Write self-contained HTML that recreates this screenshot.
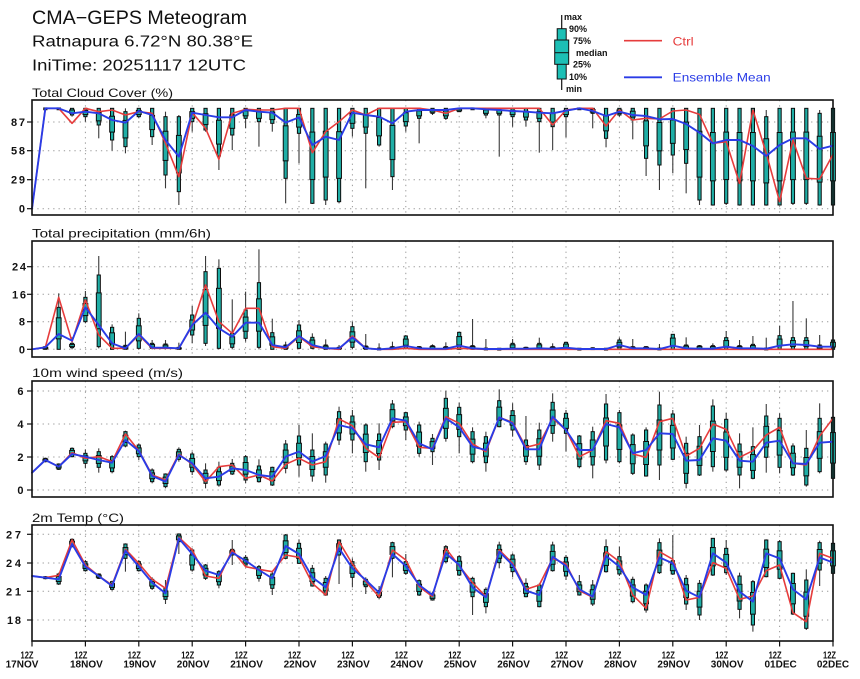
<!DOCTYPE html>
<html><head><meta charset="utf-8"><style>
html,body{margin:0;padding:0;background:#fff;}
svg{display:block;}
text{font-family:"Liberation Sans",Arial,sans-serif;}
.tl{font-size:11px;font-weight:bold;fill:#111;}
.xl{font-size:10px;font-weight:bold;fill:#111;}
.lg{font-size:9px;font-weight:bold;fill:#111;}
.pt{font-size:12px;fill:#111;}
</style></head><body>
<svg id="s" width="860" height="679" viewBox="0 0 860 679" xmlns="http://www.w3.org/2000/svg">
<rect width="860" height="679" fill="#fff"/>
<g id="grid"></g>
<g id="data"></g>
<g fill="none" stroke="#111" stroke-width="1.6">
<rect x="32" y="100" width="801" height="115"/>
<rect x="32" y="241" width="801" height="116"/>
<rect x="32" y="381" width="801" height="116"/>
<rect x="32" y="525" width="801" height="116"/>
</g>
<g id="xt" stroke="#111" stroke-width="1.2"></g>

<text x="32" y="24" font-size="19" fill="#111" textLength="215" lengthAdjust="spacingAndGlyphs">CMA−GEPS Meteogram</text>
<text x="32" y="46.5" font-size="16" fill="#111" textLength="221" lengthAdjust="spacingAndGlyphs">Ratnapura 6.72°N 80.38°E</text>
<text x="32" y="70.5" font-size="16" fill="#111" textLength="214" lengthAdjust="spacingAndGlyphs">IniTime: 20251117 12UTC</text>

<text class="pt" x="32" y="97" textLength="141" lengthAdjust="spacingAndGlyphs">Total Cloud Cover (%)</text>
<text class="pt" x="32" y="237.5" textLength="179" lengthAdjust="spacingAndGlyphs">Total precipitation (mm/6h)</text>
<text class="pt" x="32" y="377" textLength="151" lengthAdjust="spacingAndGlyphs">10m wind speed (m/s)</text>
<text class="pt" x="32" y="522" textLength="92" lengthAdjust="spacingAndGlyphs">2m Temp (°C)</text>

<g class="tl" text-anchor="end">
<text x="25" y="126" textLength="14">87</text>
<text x="25" y="154.7" textLength="14">58</text>
<text x="25" y="183.7" textLength="14">29</text>
<text x="25" y="212.7">0</text>
<text x="26" y="270.7" textLength="14">24</text>
<text x="26" y="298.3" textLength="14">16</text>
<text x="25" y="325.7">8</text>
<text x="25" y="353.3">0</text>
<text x="23.5" y="395">6</text>
<text x="23.5" y="428">4</text>
<text x="23.5" y="461">2</text>
<text x="23.5" y="494">0</text>
<text x="21" y="538.3" textLength="15">27</text>
<text x="21" y="567" textLength="15">24</text>
<text x="21" y="595.3" textLength="15">21</text>
<text x="21" y="624" textLength="14">18</text>
</g>

<g class="xl" text-anchor="middle">
<text x="27" y="658.5" textLength="13" lengthAdjust="spacingAndGlyphs">12Z</text><text x="22" y="667.5">17NOV</text>
<text x="80.9" y="658.5" textLength="13" lengthAdjust="spacingAndGlyphs">12Z</text><text x="86.4" y="667.5">18NOV</text>
<text x="134.3" y="658.5" textLength="13" lengthAdjust="spacingAndGlyphs">12Z</text><text x="139.8" y="667.5">19NOV</text>
<text x="187.7" y="658.5" textLength="13" lengthAdjust="spacingAndGlyphs">12Z</text><text x="193.2" y="667.5">20NOV</text>
<text x="241.1" y="658.5" textLength="13" lengthAdjust="spacingAndGlyphs">12Z</text><text x="246.6" y="667.5">21NOV</text>
<text x="294.5" y="658.5" textLength="13" lengthAdjust="spacingAndGlyphs">12Z</text><text x="300" y="667.5">22NOV</text>
<text x="347.9" y="658.5" textLength="13" lengthAdjust="spacingAndGlyphs">12Z</text><text x="353.4" y="667.5">23NOV</text>
<text x="401.3" y="658.5" textLength="13" lengthAdjust="spacingAndGlyphs">12Z</text><text x="406.8" y="667.5">24NOV</text>
<text x="454.7" y="658.5" textLength="13" lengthAdjust="spacingAndGlyphs">12Z</text><text x="460.2" y="667.5">25NOV</text>
<text x="508.1" y="658.5" textLength="13" lengthAdjust="spacingAndGlyphs">12Z</text><text x="513.6" y="667.5">26NOV</text>
<text x="561.5" y="658.5" textLength="13" lengthAdjust="spacingAndGlyphs">12Z</text><text x="567" y="667.5">27NOV</text>
<text x="614.9" y="658.5" textLength="13" lengthAdjust="spacingAndGlyphs">12Z</text><text x="620.4" y="667.5">28NOV</text>
<text x="668.3" y="658.5" textLength="13" lengthAdjust="spacingAndGlyphs">12Z</text><text x="673.8" y="667.5">29NOV</text>
<text x="721.7" y="658.5" textLength="13" lengthAdjust="spacingAndGlyphs">12Z</text><text x="727.2" y="667.5">30NOV</text>
<text x="775.1" y="658.5" textLength="13" lengthAdjust="spacingAndGlyphs">12Z</text><text x="780.6" y="667.5">01DEC</text>
<text x="829.5" y="658.5" textLength="13" lengthAdjust="spacingAndGlyphs">12Z</text><text x="833" y="667.5">02DEC</text>
</g>

<!-- legend -->
<line x1="561.7" y1="15" x2="561.7" y2="90" stroke="#111" stroke-width="1.2"/>
<rect x="557.2" y="28.7" width="9" height="50.3" fill="#1dbfb5" stroke="#111" stroke-width="1"/>
<rect x="554.7" y="40" width="14" height="24.3" fill="#1dbfb5" stroke="#111" stroke-width="1"/>
<line x1="554.7" y1="52.7" x2="568.7" y2="52.7" stroke="#111" stroke-width="1"/>
<text class="lg" x="564" y="20.2">max</text>
<text class="lg" x="569" y="32.2">90%</text>
<text class="lg" x="573" y="44.2">75%</text>
<text class="lg" x="576" y="56.2">median</text>
<text class="lg" x="573" y="67.7">25%</text>
<text class="lg" x="569" y="80.2">10%</text>
<text class="lg" x="566" y="92.2">min</text>
<line x1="624" y1="40.7" x2="662" y2="40.7" stroke="#e63c3c" stroke-width="1.6"/>
<text x="672.7" y="45.7" font-size="12" fill="#e63c3c" textLength="21" lengthAdjust="spacingAndGlyphs">Ctrl</text>
<line x1="624" y1="77.3" x2="662" y2="77.3" stroke="#2a3ce6" stroke-width="1.8"/>
<text x="672.7" y="81.7" font-size="12" fill="#2a3ce6" textLength="98" lengthAdjust="spacingAndGlyphs">Ensemble Mean</text>
</svg>
<script>
(function(){
const NS="http://www.w3.org/2000/svg";
function el(p,t,a){const e=document.createElementNS(NS,t);for(const k in a)e.setAttribute(k,a[k]);p.appendChild(e);return e;}
const X=i=>32+13.35*i;
const gG=document.getElementById('grid'),gD=document.getElementById('data'),gX=document.getElementById('xt');
const panels=[
 {top:100,bot:215,ticks:[122,150.7,179.7,208.7]},
 {top:241,bot:357,ticks:[266.7,294.3,321.7,349.3]},
 {top:381,bot:497,ticks:[391,424,457,490]},
 {top:525,bot:641,ticks:[534.3,563,591.3,620]}];
panels.forEach(p=>{
 p.ticks.forEach(y=>{
  el(gG,'line',{x1:32,x2:833,y1:y,y2:y,stroke:'#9a9a9a','stroke-width':1,'stroke-dasharray':'1.3,4'});
  el(gX,'line',{x1:27,x2:32,y1:y,y2:y});
 });
 for(let k=1;k<15;k++){const x=32+53.4*k;
  el(gG,'line',{x1:x,x2:x,y1:p.top,y2:p.bot,stroke:'#9a9a9a','stroke-width':1,'stroke-dasharray':'1.3,4'});}
});
for(let k=0;k<=15;k++){const x=32+53.4*k;el(gX,'line',{x1:x,x2:x,y1:641,y2:646.5});}

function drawBoxes(oy,boxes){
 boxes.forEach((bx,j)=>{
  const i=j+1,x=X(i);
  let t=oy+bx[0]/3,b=oy+bx[1]/3,mx=oy+bx[2]/3,mn=oy+bx[3]/3;
  el(gD,'line',{x1:x,x2:x,y1:mx,y2:mn,stroke:'#3a3a3a','stroke-width':1.1});
  if(b-t<1.8){const c=(t+b)/2;t=c-0.9;b=c+0.9;}
  el(gD,'rect',{x:x-1.6,y:t,width:3.2,height:b-t,fill:'#1fae a6'.replace(' ',''),stroke:'#0d0d0d','stroke-width':1});
  const q3=t+0.25*(b-t),q1=t+0.75*(b-t);
  if(q1-q3>1){
   el(gD,'rect',{x:x-2.4,y:q3,width:4.8,height:q1-q3,fill:'#1faea6',stroke:'#0d0d0d','stroke-width':1});
  }
 });
}
function drawLine(oy,arr,col,w){
 const pts=arr.map((v,i)=>X(i).toFixed(2)+','+(oy+v/3).toFixed(2)).join(' ');
 el(gD,'polyline',{points:pts,fill:'none',stroke:col,'stroke-width':w,'stroke-linejoin':'round','stroke-linecap':'round'});
}
const RED='#e63c3c',BLUE='#2a3ce6';

/* Cloud */
const cB=[[325,328,325,328],[325,328,325,328],[325,345,325,350],[325,350,325,365],[325,375,325,415],[325,420,325,452],[335,440,325,460],[325,350,325,355],[325,410,325,435],[350,525,335,565],[350,575,345,615],[325,365,325,395],[325,390,325,395],[325,468,325,510],[325,405,325,450],[325,355,325,385],[325,365,325,440],[325,370,325,395],[325,535,325,610],[325,400,325,490],[325,610,325,612],[325,600,325,615],[325,605,325,610],[325,385,325,410],[325,400,325,565],[325,435,325,440],[325,530,325,570],[325,378,325,395],[325,355,325,430],[325,340,325,345],[325,355,325,360],[325,335,325,335],[325,328,325,330],[325,345,325,355],[325,345,325,470],[325,350,325,380],[325,360,325,380],[325,365,325,458],[325,380,325,450],[325,350,325,412],[325,328,325,330],[325,340,325,385],[325,415,325,442],[325,345,325,350],[325,360,325,418],[325,475,325,528],[325,495,325,570],[325,465,325,520],[325,490,325,580],[325,600,325,615],[325,615,325,617],[325,610,325,615],[325,615,325,617],[325,615,325,617],[350,615,330,617],[325,615,325,617],[325,610,325,615],[325,610,325,615],[340,615,330,617],[325,615,325,617]];
const cR=[626,325,325,370,325,335,330,345,335,340,430,530,338,385,478,340,328,330,330,325,325,458,395,365,330,345,325,325,325,325,330,340,325,325,325,325,325,325,325,375,330,325,325,378,330,360,355,357,333,330,343,430,425,550,330,460,605,420,535,537,463];
const cL=[626,325,325,340,335,340,360,368,333,345,420,470,338,345,352,352,330,335,338,368,352,435,410,420,338,345,350,370,335,330,330,330,325,325,328,330,333,335,338,340,332,325,333,348,335,345,348,358,357,372,398,430,420,420,438,468,435,415,415,447,437];
drawBoxes(0,cB);drawLine(0,cR,RED,1.6);drawLine(0,cL,BLUE,1.9);

/* Precip */
const pB=[[380,388,378,388],[262,388,220,388],[370,383,352,388],[232,305,213,310],[165,380,108,385],[322,388,313,388],[376,388,335,388],[295,385,280,388],[370,385,360,388],[372,385,360,388],[382,388,368,388],[285,345,258,370],[155,370,108,378],[145,385,118,388],[340,382,238,388],[270,355,215,365],[188,382,88,388],[338,388,296,388],[375,388,365,388],[315,385,300,388],[352,385,340,388],[375,388,358,388],[382,388,375,388],[320,382,305,388],[378,388,342,388],[386,388,370,388],[380,388,365,388],[348,385,345,388],[380,388,378,388],[377,388,373,388],[380,388,367,388],[337,388,337,388],[377,388,297,388],[386,388,357,388],[387,388,385,388],[370,388,357,388],[382,388,380,388],[370,388,353,388],[380,388,370,388],[367,388,365,388],[387,388,386,388],[384,388,382,388],[387,388,386,388],[360,388,353,388],[380,388,357,388],[380,388,378,388],[386,388,372,388],[343,388,343,388],[375,388,352,388],[377,388,375,388],[377,388,370,388],[353,388,333,388],[377,388,360,388],[373,388,348,388],[386,388,353,388],[347,388,317,388],[353,388,243,388],[353,388,295,388],[375,388,345,388],[360,388,358,388]];
const pR=[388,382,232,365,240,345,385,385,345,385,385,385,318,195,305,340,265,265,380,385,350,380,385,388,348,385,388,388,385,388,388,388,385,387].concat(new Array(27).fill(388));
const pL=[388,382,342,362,262,315,370,385,342,383,383,385,315,278,325,350,308,308,375,382,348,375,385,385,352,385,388,385,378,385,386,386,377,385,387,387,386,386,385,386,383,387,387,387,375,385,385,387,377,385,386,386,380,385,385,386,377,373,375,380,380];
drawBoxes(220,pB);drawLine(220,pR,RED,1.6);drawLine(220,pL,BLUE,1.9);

/* Wind */
const wB=[[295,305,293,307],[312,328,310,330],[265,290,262,292],[280,310,268,325],[275,322,265,338],[290,335,285,340],[215,258,212,262],[255,290,250,300],[330,365,325,370],[342,380,340,385],[268,298,262,305],[282,335,275,345],[330,370,310,385],[322,375,305,380],[310,342,297,345],[290,360,285,370],[318,365,298,368],[322,375,320,378],[252,325,240,340],[228,315,195,350],[270,348,220,365],[252,345,245,368],[155,240,140,255],[168,240,150,280],[195,305,190,335],[222,300,190,330],[132,200,120,205],[158,210,155,240],[195,280,185,290],[235,275,222,315],[115,235,92,245],[142,230,128,280],[215,305,202,310],[230,308,215,335],[122,200,88,202],[152,210,130,230],[240,305,168,315],[210,315,188,330],[127,220,100,245],[160,220,150,275],[228,320,225,325],[215,315,200,355],[132,300,102,310],[158,305,150,310],[225,340,220,345],[210,348,202,350],[135,315,95,360],[162,298,150,300],[250,370,230,385],[230,345,195,348],[138,320,118,335],[178,330,158,335],[252,345,220,385],[260,355,202,358],[168,292,132,338],[175,322,160,340],[258,345,250,348],[265,375,210,380],[175,335,130,340],[172,355,170,355]];
const wR=[338,300,320,278,295,290,305,222,272,345,360,282,313,365,320,315,355,345,363,313,295,315,305,177,197,265,293,187,185,262,265,170,190,252,275,172,187,262,252,175,210,290,270,182,190,282,292,185,175,288,265,192,208,292,272,225,202,310,315,228,175];
const wL=[338,300,320,282,290,300,308,240,273,348,365,285,310,355,350,325,330,345,350,290,275,305,288,195,205,253,262,175,182,250,268,175,202,260,270,172,190,268,268,170,210,270,270,192,202,280,270,220,222,302,300,235,242,302,305,248,242,310,312,248,245];
drawBoxes(360,wB);drawLine(360,wR,RED,1.6);drawLine(360,wL,BLUE,1.9);

/* Temp */
const tB=[[230,236,228,238],[222,252,218,255],[118,140,115,142],[185,212,180,215],[222,235,220,237],[245,268,242,272],[132,175,130,215],[185,212,180,215],[238,265,232,270],[265,298,240,312],[102,125,100,162],[150,210,145,215],[195,235,192,240],[215,255,210,265],[148,165,120,195],[172,195,165,200],[200,235,195,245],[222,265,215,285],[105,175,102,178],[130,190,118,192],[205,258,195,260],[235,285,228,288],[120,165,118,252],[185,232,175,262],[238,260,232,282],[272,292,258,298],[128,175,125,232],[185,220,162,225],[242,285,238,288],[280,300,275,302],[140,185,135,190],[170,225,165,228],[235,290,230,345],[268,320,262,340],[135,188,125,205],[165,215,160,232],[250,290,235,292],[255,320,250,322],[135,212,125,215],[172,228,165,240],[245,285,225,287],[255,312,240,318],[140,215,118,218],[170,222,140,228],[238,305,230,310],[255,330,250,338],[128,218,115,222],[182,222,105,225],[235,312,225,330],[250,345,240,360],[115,225,115,228],[145,218,120,225],[228,328,218,355],[245,375,240,395],[120,230,118,232],[125,235,120,238],[220,342,218,345],[240,385,208,390],[128,210,122,258],[130,220,125,225]];
const tR=[228,233,226,120,195,228,255,148,190,238,265,112,150,228,235,150,200,208,215,165,172,250,285,125,192,245,290,150,180,260,290,145,198,248,290,150,190,268,255,175,192,272,292,155,185,285,325,155,178,300,292,188,205,298,288,212,195,338,365,160,175];
const tL=[228,233,238,132,200,228,258,152,200,248,280,115,162,212,225,158,182,210,235,138,162,232,262,145,205,240,278,162,198,255,285,160,195,262,292,155,195,272,285,170,198,268,290,168,200,262,285,172,190,272,292,160,188,275,305,160,175,268,298,172,188];
drawBoxes(500,tB);drawLine(500,tR,RED,1.6);drawLine(500,tL,BLUE,1.9);
})();
</script>
</body></html>
